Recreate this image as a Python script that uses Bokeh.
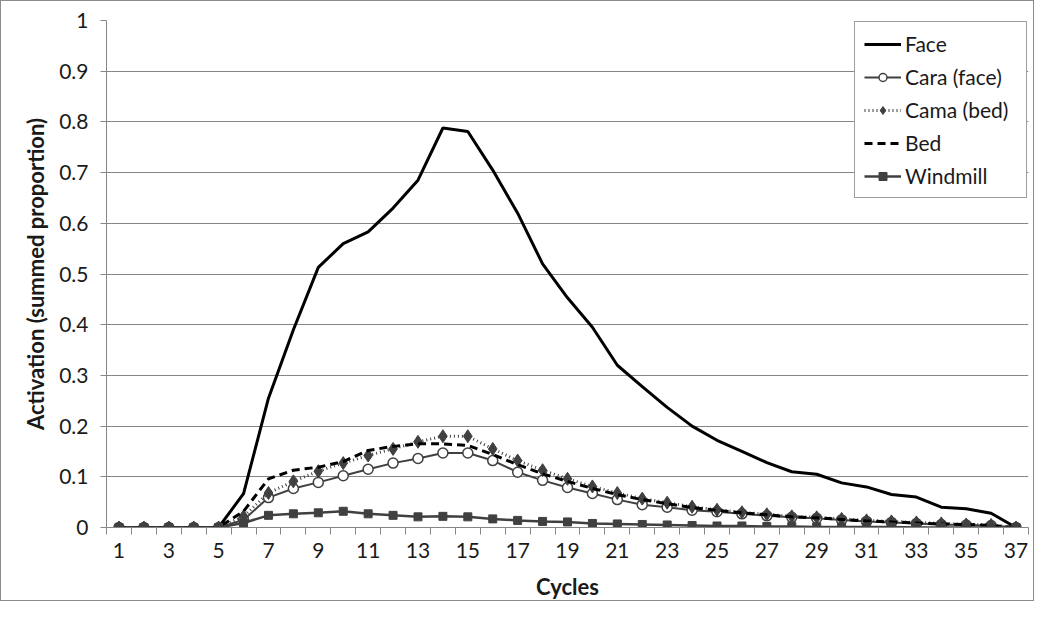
from bokeh.plotting import figure
from bokeh.models import FixedTicker, Legend
from bokeh.embed import file_html
from bokeh.resources import INLINE

cycles = list(range(1, 38))
face = [0, 0, 0, 0, 0, 0.067, 0.255, 0.39, 0.513, 0.56, 0.583, 0.63, 0.685, 0.788, 0.781,
        0.705, 0.62, 0.52, 0.453, 0.395, 0.32, 0.278, 0.237, 0.2, 0.172, 0.15, 0.128, 0.11,
        0.105, 0.088, 0.08, 0.065, 0.06, 0.04, 0.037, 0.028, 0]
cara = [0, 0, 0, 0, 0, 0.015, 0.059, 0.077, 0.089, 0.102, 0.115, 0.127, 0.136, 0.147, 0.147,
        0.132, 0.109, 0.093, 0.079, 0.067, 0.055, 0.045, 0.04, 0.034, 0.031, 0.027, 0.023,
        0.02, 0.018, 0.015, 0.012, 0.01, 0.008, 0.006, 0.005, 0.004, 0]
cama = [0, 0, 0, 0, 0, 0.022, 0.068, 0.091, 0.111, 0.127, 0.142, 0.155, 0.169, 0.18, 0.18,
        0.155, 0.132, 0.113, 0.096, 0.081, 0.068, 0.057, 0.049, 0.041, 0.035, 0.03, 0.026,
        0.022, 0.02, 0.017, 0.014, 0.012, 0.01, 0.008, 0.006, 0.005, 0]
bed = [0, 0, 0, 0, 0, 0.032, 0.096, 0.113, 0.119, 0.13, 0.152, 0.16, 0.165, 0.165, 0.162,
       0.144, 0.124, 0.106, 0.091, 0.077, 0.065, 0.055, 0.047, 0.039, 0.034, 0.029, 0.025,
       0.021, 0.019, 0.016, 0.013, 0.011, 0.009, 0.007, 0.006, 0.004, 0]
windmill = [0, 0, 0, 0, 0, 0.009, 0.024, 0.027, 0.029, 0.032, 0.027, 0.024, 0.021, 0.022,
            0.021, 0.017, 0.014, 0.012, 0.011, 0.008, 0.007, 0.006, 0.005, 0.004, 0.003,
            0.003, 0.002, 0.002, 0.001, 0.001, 0.001, 0.001, 0, 0, 0, 0, 0]
y_ticks = [0, 0.1, 0.2, 0.3, 0.4, 0.5, 0.6, 0.7, 0.8, 0.9, 1]
y_tick_labels = ["0", "0.1", "0.2", "0.3", "0.4", "0.5", "0.6", "0.7", "0.8", "0.9", "1"]
x_tick_values = cycles[::2]

FONT = "Lato"
GRAY = "#868686"
DARK = "#404040"

p = figure(width=1034, height=601, output_backend="svg", toolbar_location=None,
           x_range=(0.5, 37.5), y_range=(0, 1),
           min_border_left=105, min_border_top=19, min_border_right=7, min_border_bottom=74)
p.styles = {"border": "1px solid #8c8c8c"}
p.outline_line_color = None
p.xgrid.grid_line_color = None
p.ygrid.grid_line_color = GRAY
p.ygrid.grid_line_width = 1

p.yaxis.ticker = FixedTicker(ticks=y_ticks)
p.yaxis.major_label_overrides = dict(zip(y_ticks, y_tick_labels))
p.yaxis.minor_tick_line_color = None
p.yaxis.major_tick_in = 0
p.yaxis.major_tick_out = 6
p.yaxis.axis_label = "Activation (summed proportion)"

p.xaxis.ticker = FixedTicker(ticks=x_tick_values,
                             minor_ticks=[c - 0.5 for c in cycles] + [cycles[-1] + 0.5])
p.xaxis.major_tick_in = 0
p.xaxis.major_tick_out = 7
p.xaxis.minor_tick_in = 0
p.xaxis.minor_tick_out = 7
p.xaxis.axis_label = "Cycles"

for ax in (p.xaxis, p.yaxis):
    ax.axis_line_color = GRAY
    ax.major_label_text_font = FONT
    ax.major_label_text_font_size = "21px"
    ax.major_label_text_color = "#1a1a1a"
    ax.axis_label_text_font = FONT
    ax.axis_label_text_font_size = "22px"
    ax.axis_label_text_font_style = "bold"
    ax.axis_label_text_color = "#1a1a1a"

p.yaxis.major_tick_line_color = GRAY
p.xaxis.major_tick_line_color = None
p.xaxis.minor_tick_line_color = GRAY

p.yaxis.major_label_standoff = 12
p.yaxis.axis_label_standoff = 7
p.xaxis.major_label_standoff = 8
p.xaxis.axis_label_standoff = 12

r_face = p.line(cycles, face, line_color="black", line_width=3)
r_cara_l = p.line(cycles, cara, line_color=DARK, line_width=2)
r_cara_m = p.scatter(cycles, cara, marker="circle", size=10, fill_color="white",
                     line_color=DARK, line_width=1.5)
r_cama_l = p.line(cycles, cama, line_color=DARK, line_width=3, line_dash="1 3")
r_cama_m = p.scatter(cycles, cama, marker="diamond", size=13, fill_color=DARK,
                     line_color=DARK)
r_bed = p.line(cycles, bed, line_color="black", line_width=3, line_dash="8 5")
r_wind_l = p.line(cycles, windmill, line_color=DARK, line_width=2.5)
r_wind_m = p.scatter(cycles, windmill, marker="square", size=8, fill_color=DARK,
                     line_color=DARK)

legend = Legend(items=[("Face", [r_face]), ("Cara (face)", [r_cara_l, r_cara_m]),
                       ("Cama (bed)", [r_cama_l, r_cama_m]), ("Bed", [r_bed]),
                       ("Windmill", [r_wind_l, r_wind_m])],
                location="top_right", margin=1, padding=9, spacing=8,
                glyph_width=37, glyph_height=20, label_height=20, label_standoff=4,
                label_width=112,
                label_text_font=FONT, label_text_font_size="21px",
                label_text_color="#1a1a1a",
                border_line_color=DARK, border_line_width=1,
                background_fill_color="white", background_fill_alpha=1)
p.add_layout(legend)

open("out.html", "w").write(file_html(p, INLINE))
